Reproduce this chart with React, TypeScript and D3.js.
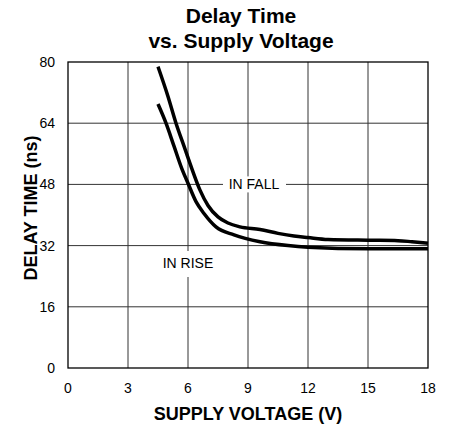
import React from "react";
import * as d3 from "d3";

// delay vs supply voltage
const fallVolts = [4.5, 5, 5.4, 5.8, 6.2, 6.6, 7, 7.5, 8, 8.6, 9.6, 10.5, 11.3, 12, 13, 15, 16.5, 17.2, 18];
const fallDelay = [78.8, 71, 64, 58, 52, 46.5, 42.5, 39.5, 37.9, 36.9, 36.2, 35.2, 34.5, 34.1, 33.6, 33.4, 33.3, 33, 32.6];
const riseVolts = [4.5, 4.9, 5.3, 5.7, 6, 6.4, 6.8, 7.4, 8.3, 9.6, 11, 12, 15, 18];
const riseDelay = [69, 64, 58, 52, 48.3, 43.5, 40.4, 36.9, 34.8, 33, 32, 31.6, 31.2, 31.2];

const xTicks = [0, 3, 6, 9, 12, 15, 18];
const yTicks = [0, 16, 32, 48, 64, 80];

const W = 450;
const H = 425;
const margin = { top: 62, right: 22, bottom: 57, left: 68 };
const font = "'Liberation Sans', Arial, Helvetica, sans-serif";

const App = () => {
  const x = d3.scaleLinear().domain([0, 18]).range([margin.left, W - margin.right]);
  const y = d3.scaleLinear().domain([0, 80]).range([H - margin.bottom, margin.top]);

  const line = d3
    .line<[number, number]>()
    .x((d) => x(d[0]))
    .y((d) => y(d[1]))
    .curve(d3.curveMonotoneX);

  const fallPath = line(fallVolts.map((v, i) => [v, fallDelay[i]]));
  const risePath = line(riseVolts.map((v, i) => [v, riseDelay[i]]));

  const x0 = x(0);
  const x1 = x(18);
  const y0 = y(0);
  const y1 = y(80);
  const cx = (x0 + x1) / 2;
  const cy = (y0 + y1) / 2;

  return (
    <svg
      width={W}
      height={H}
      style={{ position: "absolute", left: 0, top: 0, background: "#fff" }}
      fontFamily={font}
    >
      {/* title */}
      <text x={241} y={23} textAnchor="middle" fontSize={21} fontWeight="bold">
        Delay Time
      </text>
      <text x={241} y={48} textAnchor="middle" fontSize={21} fontWeight="bold">
        vs. Supply Voltage
      </text>

      {/* grid */}
      {xTicks.slice(1, -1).map((t) => (
        <line key={"gx" + t} x1={x(t)} x2={x(t)} y1={y0} y2={y1} stroke="#333" strokeWidth={1} />
      ))}
      {yTicks.slice(1, -1).map((t) => (
        <line key={"gy" + t} x1={x0} x2={x1} y1={y(t)} y2={y(t)} stroke="#333" strokeWidth={1} />
      ))}
      <rect x={x0} y={y1} width={x1 - x0} height={y0 - y1} fill="none" stroke="#000" strokeWidth={1.3} />

      {/* tick labels */}
      {xTicks.map((t) => (
        <text key={"tx" + t} x={x(t)} y={393} textAnchor="middle" fontSize={14}>
          {t}
        </text>
      ))}
      {yTicks.map((t) => (
        <text key={"ty" + t} x={55} y={y(t) + 5} textAnchor="end" fontSize={14}>
          {t}
        </text>
      ))}

      {/* axis titles */}
      <text x={cx} y={420} textAnchor="middle" fontSize={18} fontWeight="bold">
        SUPPLY VOLTAGE (V)
      </text>
      <text
        transform={`translate(37,${cy - 7}) rotate(-90)`}
        textAnchor="middle"
        fontSize={18}
        fontWeight="bold"
      >
        DELAY TIME (ns)
      </text>

      {/* curve labels */}
      <rect x={223} y={y(48) - 8} width={63} height={16} fill="#fff" />
      <text x={254} y={y(48) + 5} textAnchor="middle" fontSize={14}>
        IN FALL
      </text>
      <rect x={x(6) - 6} y={251} width={12} height={26} fill="#fff" />
      <text x={x(6)} y={268} textAnchor="middle" fontSize={14}>
        IN RISE
      </text>

      {/* curves */}
      <path d={fallPath ?? ""} fill="none" stroke="#000" strokeWidth={3.5} strokeLinejoin="round" />
      <path d={risePath ?? ""} fill="none" stroke="#000" strokeWidth={3.5} strokeLinejoin="round" />
    </svg>
  );
};

export default App;
